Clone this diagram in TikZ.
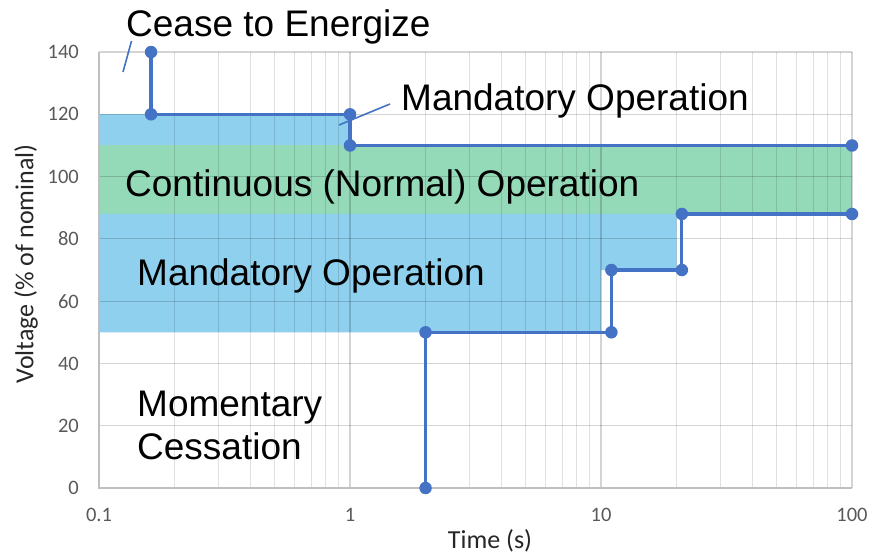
\documentclass[tikz,border=0pt]{standalone}
\usepackage{fontspec}
\setmainfont{Liberation Sans}
\newfontfamily\calfont{Carlito}
\definecolor{lineblue}{RGB}{68,114,196}
\definecolor{fillblue}{RGB}{142,208,238}
\definecolor{fillgreen}{RGB}{148,217,184}
\definecolor{ticktext}{RGB}{89,89,89}
\definecolor{axisgray}{RGB}{191,191,191}
\begin{document}
\begin{tikzpicture}[x=1pt,y=-1pt,
  bigtext/.style={inner sep=0pt,anchor=base west,font=\fontsize{37}{40}\selectfont},
  ticklab/.style={inner sep=0pt,text=ticktext,font=\calfont\fontsize{20.5}{24}\selectfont},
  axtitle/.style={inner sep=0pt,text=black!85,font=\calfont\fontsize{26}{30}\selectfont},
  curve/.style={draw=lineblue,line width=3.2pt},
  leader/.style={draw=lineblue,line width=1.6pt},
  dot/.style={circle,fill=lineblue,inner sep=0pt,minimum size=12.5pt},
  minorgrid/.style={draw=black,opacity=0.12,line width=1pt},
  majorgrid/.style={draw=black,opacity=0.17,line width=1.2pt}]
\useasboundingbox (0,0) rectangle (870,557);
\def\xa{99}\def\xd{251}\def\yz{488}\def\ys{3.114}
% fills
\fill[fillblue] ({\xa},{\yz-\ys*120}) rectangle ({\xa+\xd*1},{\yz-\ys*110});
\fill[fillgreen] ({\xa},{\yz-\ys*110}) rectangle ({\xa+\xd*3},{\yz-\ys*88});
\fill[fillblue] ({\xa},{\yz-\ys*88}) -- ({\xa},{\yz-\ys*50}) -- ({\xa+\xd*2},{\yz-\ys*50})
  -- ({\xa+\xd*2},{\yz-\ys*70}) -- ({\xa+\xd*(2+log10(2))},{\yz-\ys*70})
  -- ({\xa+\xd*(2+log10(2))},{\yz-\ys*88}) -- cycle;
% grid
\foreach \d in {0,1,2}{
  \foreach \k in {2,...,9}{
    \draw[minorgrid] ({\xa+\xd*(\d+log10(\k))},{\yz-\ys*140}) -- ({\xa+\xd*(\d+log10(\k))},{\yz});
  }
}
\foreach \d in {1,2,3}{
  \draw[majorgrid] ({\xa+\xd*\d},{\yz-\ys*140}) -- ({\xa+\xd*\d},{\yz});
}
\foreach \v in {20,40,...,140}{
  \draw[majorgrid] ({\xa},{\yz-\ys*\v}) -- ({\xa+\xd*3},{\yz-\ys*\v});
}
\draw[axisgray,line width=1.6pt] ({\xa},{\yz-\ys*140}) -- ({\xa},{\yz}) -- ({\xa+\xd*3},{\yz});
% tick labels
\foreach \v in {0,20,...,140}{
  \node[ticklab,anchor=east] (yl\v) at (79,{\yz-\ys*\v}) {\v};
}
\node[ticklab] (xl0) at ({\xa},515) {0.1};
\node[ticklab] (xl1) at ({\xa+\xd},515) {1};
\node[ticklab] (xl2) at ({\xa+\xd*2},515) {10};
\node[ticklab] (xl3) at ({\xa+\xd*3},515) {100};
\node[axtitle] (xt) at (490,541) {Time (s)};
\node[axtitle,rotate=90] (yt) at (26,264) {Voltage (\% of nominal)};
% curve points
\coordinate (a1) at ({\xa+\xd*(log10(0.16)+1)},{\yz-\ys*140});
\coordinate (a2) at ({\xa+\xd*(log10(0.16)+1)},{\yz-\ys*120});
\coordinate (a3) at ({\xa+\xd},{\yz-\ys*120});
\coordinate (a4) at ({\xa+\xd},{\yz-\ys*110});
\coordinate (a5) at ({\xa+\xd*3},{\yz-\ys*110});
\coordinate (b1) at ({\xa+\xd*(1+log10(2))},{\yz});
\coordinate (b2) at ({\xa+\xd*(1+log10(2))},{\yz-\ys*50});
\coordinate (b3) at ({\xa+\xd*(2+log10(1.1))},{\yz-\ys*50});
\coordinate (b4) at ({\xa+\xd*(2+log10(1.1))},{\yz-\ys*70});
\coordinate (b5) at ({\xa+\xd*(2+log10(2.1))},{\yz-\ys*70});
\coordinate (b6) at ({\xa+\xd*(2+log10(2.1))},{\yz-\ys*88});
\coordinate (b7) at ({\xa+\xd*3},{\yz-\ys*88});
\draw[curve] (a1) -- (a2) -- (a3) -- (a4) -- (a5);
\draw[curve] (b1) -- (b2) -- (b3) -- (b4) -- (b5) -- (b6) -- (b7);
\foreach \p in {a1,a2,a3,a4,a5,b1,b2,b3,b4,b5,b6,b7}{
  \node[dot] (m\p) at (\p) {};
}
% leaders
\coordinate (c1) at (131.5,41);
\coordinate (c2) at (123,72);
\draw[leader] (c1) -- (c2);
\coordinate (d1) at (390,104);
\coordinate (d2) at (339,125);
\draw[leader] (d1) -- (d2);
% labels
\node[bigtext] (cease) at (126,36) {Cease to Energize};
\node[bigtext] (mand1) at (401,110) {Mandatory Operation};
\node[bigtext] (cont) at (125,196) {Continuous (Normal) Operation};
\node[bigtext] (mand2) at (137,285) {Mandatory Operation};
\node[bigtext] (mom) at (137,416) {Momentary};
\node[bigtext] (cess) at (137,459) {Cessation};
\end{tikzpicture}
\end{document}
